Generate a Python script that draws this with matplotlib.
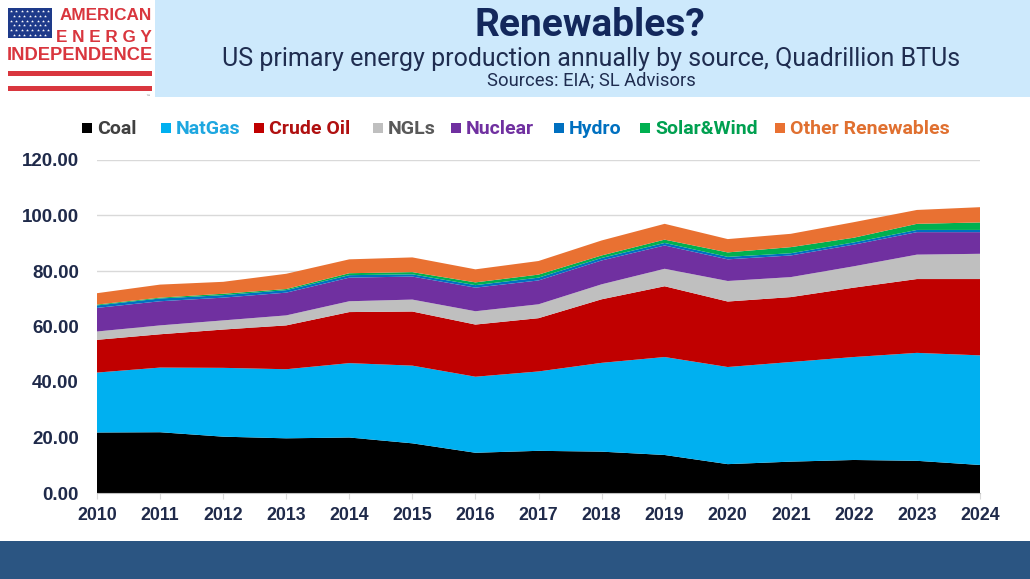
import matplotlib
matplotlib.use("Agg")
import matplotlib.pyplot as plt
from matplotlib.patches import Rectangle
import numpy as np

years = list(range(2010, 2025))
coal = [21.8, 21.9, 20.3, 19.7, 20.0, 17.9, 14.5, 15.2, 14.9, 13.7, 10.4, 11.3, 11.9, 11.6, 10.1]
natgas = [21.6, 23.3, 24.8, 24.9, 26.8, 28.0, 27.4, 28.6, 32.0, 35.3, 35.0, 35.9, 37.1, 38.9, 39.5]
crude = [11.8, 12.0, 13.8, 15.8, 18.4, 19.5, 18.8, 19.2, 22.9, 25.5, 23.6, 23.4, 25.0, 26.6, 27.5]
ngls = [3.0, 3.2, 3.3, 3.6, 3.9, 4.3, 4.8, 5.0, 5.4, 6.3, 7.4, 7.2, 7.7, 8.8, 9.1]
nuclear = [8.5, 8.7, 8.2, 8.2, 8.5, 8.3, 8.5, 8.6, 8.6, 8.4, 7.8, 7.8, 7.8, 8.1, 7.8]
hydro = [0.9, 1.0, 0.9, 0.9, 0.9, 0.8, 0.9, 1.0, 0.9, 0.9, 0.9, 0.8, 0.8, 0.8, 0.8]
solar_wind = [0.3, 0.3, 0.5, 0.4, 0.7, 0.8, 1.0, 1.1, 0.9, 1.2, 1.6, 2.2, 1.7, 2.2, 2.7]
other_ren = [4.1, 4.7, 4.3, 5.5, 5.0, 5.3, 4.7, 4.9, 5.4, 5.7, 4.8, 4.8, 5.6, 5.0, 5.5]

labels = ["Coal", "NatGas", "Crude Oil", "NGLs", "Nuclear", "Hydro", "Solar&Wind", "Other Renewables"]
colors = ["#000000", "#00B0F0", "#C00000", "#BFBFBF", "#7030A0", "#0070C0", "#00B050", "#E97132"]
text_colors = ["#404040", "#1EA7E0", "#B01010", "#595959", "#7030A0", "#0070C0", "#00A050", "#E07030"]
yticks = [0, 20, 40, 60, 80, 100, 120]

W, H = 1030, 579
fig = plt.figure(figsize=(W / 100, H / 100), dpi=100)
fig.patch.set_facecolor("white")

narrow = ["Roboto", "DejaVu Sans"]
arial = ["Liberation Sans", "DejaVu Sans"]

# background / overlay axes in pixel coordinates
bg = fig.add_axes([0, 0, 1, 1], zorder=0)
bg.set_xlim(0, W)
bg.set_ylim(H, 0)
bg.axis("off")

# banner
bg.add_patch(Rectangle((155, 0), W - 155, 97, facecolor="#CDE9FC", edgecolor="none"))
# bottom band
bg.add_patch(Rectangle((0, 541), W, H - 541, facecolor="#2B5582", edgecolor="none"))

# logo
red = "#D9363E"
navy = "#1E3A8A"
bg.add_patch(Rectangle((8, 8), 44, 30, facecolor=navy, edgecolor="none"))
for r in range(6):
    for c in range(8):
        xs = 11 + c * 5.3 + (2.6 if r % 2 else 0)
        if xs < 50:
            bg.plot(xs, 11 + r * 4.8, marker="*", color="white", markersize=2.2, markeredgewidth=0)
bg.text(152, 16, "AMERICAN", color=red, fontsize=12.3, fontweight="bold", family=arial,
        ha="right", va="center")
bg.text(152, 37, "E N E R G Y", color=red, fontsize=12.3, fontweight="bold", family=arial,
        ha="right", va="center")
bg.text(80, 56, "INDEPENDENCE", color=red, fontsize=13.2, fontweight="bold", family=arial,
        ha="center", va="center")
bg.add_patch(Rectangle((8, 71), 144, 5, facecolor=red, edgecolor="none"))
bg.add_patch(Rectangle((8, 86), 144, 5, facecolor=red, edgecolor="none"))
bg.text(148, 96, "™", color="#777777", fontsize=3.5, ha="center", va="center")

# titles
bg.text(590, 26, "Renewables?", color="#13285C", fontsize=28, fontweight="bold",
        family=narrow, ha="center", va="center")
bg.text(591, 59, "US primary energy production annually by source, Quadrillion BTUs",
        color="#1F2D50", fontsize=18, family=narrow, ha="center", va="center")
bg.text(591, 80, "Sources: EIA; SL Advisors", color="#1F2D50", fontsize=13.2,
        family=narrow, ha="center", va="center")

# legend (manual)
sq_x = [82, 161, 254, 373, 451, 554, 640, 775]
for lab, col, tcol, sx in zip(labels, colors, text_colors, sq_x):
    bg.add_patch(Rectangle((sx, 123), 10, 10, facecolor=col, edgecolor="none"))
    bg.text(sx + 15, 128.5, lab, color=tcol, fontsize=14, fontweight="bold",
            family=narrow, ha="left", va="center")

# main chart
left, right, bottom_px, top_px = 97, 980, 493, 160
ax = fig.add_axes([left / W, (H - bottom_px) / H, (right - left) / W, (bottom_px - top_px) / H],
                  zorder=2)
ax.patch.set_alpha(0)
ax.stackplot(years, coal, natgas, crude, ngls, nuclear, hydro, solar_wind, other_ren,
             colors=colors, linewidth=0, zorder=2)
ax.set_xlim(2010, 2024)
ax.set_ylim(0, 120)
ax.set_yticks(yticks)
ax.set_yticklabels([f"{v:.2f}" for v in yticks])
ax.set_xticks(years)
ax.set_xticklabels([str(y) for y in years])
ax.grid(axis="y", color="#D9D9D9", linewidth=1, zorder=0)
ax.set_axisbelow(True)
for s in ["top", "right", "left"]:
    ax.spines[s].set_visible(False)
ax.spines["bottom"].set_color("#BFBFBF")
ax.spines["bottom"].set_zorder(3)
ax.tick_params(axis="y", length=0, pad=13, labelsize=13.5, labelcolor="#1F2A4A")
ax.tick_params(axis="x", length=4, color="#D9D9D9", pad=6, labelsize=12.8, labelcolor="#1F2A4A")
for t in ax.get_xticklabels() + ax.get_yticklabels():
    t.set_fontweight("bold")
    t.set_family(arial)

fig.savefig("out.png", dpi=100)
